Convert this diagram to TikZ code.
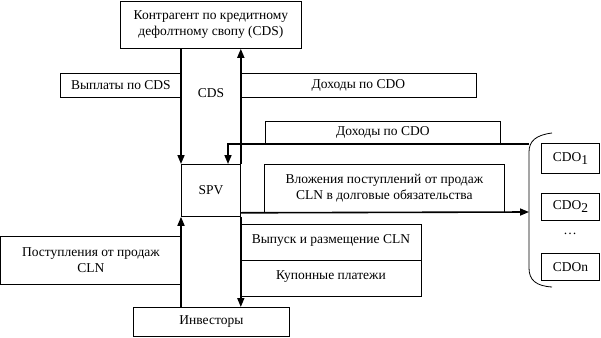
\documentclass[tikz,border=0pt]{standalone}
\usepackage{fontspec}
\setmainfont{Liberation Serif}
\usetikzlibrary{arrows.meta,calc}
\begin{document}
\begin{tikzpicture}[x=1pt,y=-1pt,
  box/.style={draw,line width=0.8pt,fill=white,anchor=north west,inner sep=0pt,align=center,font=\fontsize{13.5}{16}\selectfont},
  lbl/.style={inner sep=0pt,font=\fontsize{13.5}{16}\selectfont},
  arr/.style={line width=1.6pt,-{Triangle[length=9pt,width=7pt]}}]
\useasboundingbox (0,0) rectangle (601,337);
% boxes
\node[box,minimum width=181pt,minimum height=47pt] (top) at (120,1) {Контрагент по кредитному\\дефолтному свопу (CDS)};
\node[box,minimum width=121pt,minimum height=24pt] (vypl) at (60,73) {Выплаты по CDS};
\node[box,minimum width=236pt,minimum height=24pt] (doh1) at (240,73) {Доходы по CDO};
\node[box,minimum width=235pt,minimum height=23pt] (doh2) at (265,121) {Доходы по CDO};
\node[box,minimum width=240pt,minimum height=48pt] (vloz) at (264,164) {Вложения поступлений от продаж\\CLN в долговые обязательства};
\node[box,minimum width=59pt,minimum height=52pt] (spv) at (181,164) {SPV};
\node[box,minimum width=181pt,minimum height=36pt,text depth=6pt] (vyp) at (240,224) {Выпуск и размещение CLN};
\node[box,minimum width=181pt,minimum height=36pt,text depth=6pt] (kup) at (240,260) {Купонные платежи};
\node[box,minimum width=181pt,minimum height=48pt] (post) at (0,236) {Поступления от продаж\\CLN};
\node[box,minimum width=156pt,minimum height=29pt] (inv) at (133,307) {Инвесторы};
\node[lbl] (cds) at (211,93) {CDS};
% CDO group
\node[box,minimum width=58pt,minimum height=30pt] (cdo1) at (541,143) {CDO\raisebox{-0.5ex}{1}};
\node[box,minimum width=58pt,minimum height=27pt] (cdo2) at (541,193) {CDO\raisebox{-0.5ex}{2}};
\node[lbl] (dots) at (570,234) {…};
\node[box,minimum width=58pt,minimum height=27pt] (cdon) at (541,253) {CDOn};
\draw[line width=0.8pt] (552,133) .. controls (536,135) and (529,141) .. (529,152) -- (529,268) .. controls (529,280) and (536,286) .. (552,287);
\coordinate (bin) at (529,144);
\coordinate (bout) at (529,212);
\coordinate (spvin) at (228,164);
% connectors
\draw[arr] (top.south -| spv.west) -- (spv.north west);
\draw[arr] (spv.north east) -- (spv.north east |- top.south);
\draw[arr] (spv.south east) -- (spv.south east |- inv.north);
\draw[arr] (inv.north -| spv.west) -- (spv.south west);
\draw[arr] (bin) -| (spvin);
\draw[arr] (vloz.south -| spv.east) -- (bout);
\end{tikzpicture}
\end{document}
